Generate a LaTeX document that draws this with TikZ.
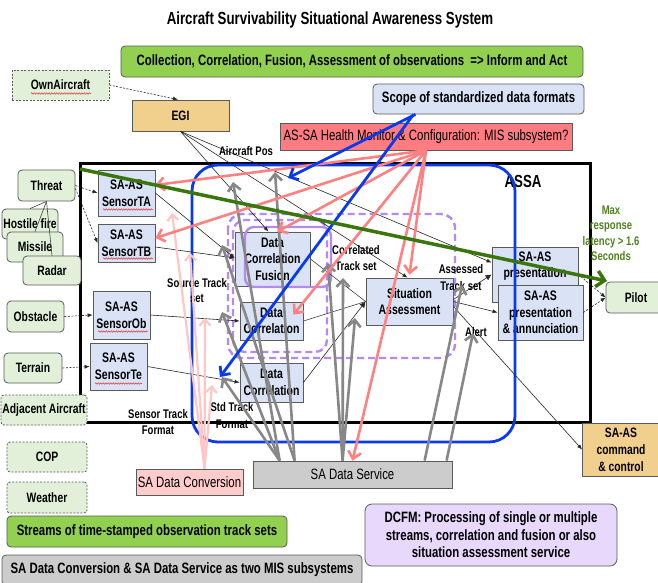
\documentclass[tikz,border=0pt]{standalone}
\usepackage{fontspec}
\setmainfont{Liberation Sans}[FakeStretch=0.76]
\usetikzlibrary{arrows.meta,calc,decorations.pathmorphing}

\definecolor{edge}{RGB}{90,90,90}
\definecolor{grn}{RGB}{146,208,80}
\definecolor{ltgrn}{RGB}{226,240,217}
\definecolor{ltblue}{RGB}{218,227,245}
\definecolor{tan}{RGB}{240,208,140}
\definecolor{salmon}{RGB}{255,124,128}
\definecolor{ltpink}{RGB}{255,204,204}
\definecolor{ltgray}{RGB}{204,204,204}
\definecolor{lav}{RGB}{232,216,252}
\definecolor{purp}{RGB}{180,138,240}
\definecolor{bluel}{RGB}{10,58,240}
\definecolor{arrgray}{RGB}{135,135,135}
\definecolor{pinkarr}{RGB}{255,128,128}
\definecolor{ltpinkarr}{RGB}{255,198,198}
\definecolor{dkgrn}{RGB}{58,118,14}
\definecolor{latgrn}{RGB}{78,130,30}
\definecolor{spell}{RGB}{225,50,50}

\newcommand\ftitle{\fontsize{17.5}{19}\selectfont\bfseries}
\newcommand\fbold{\fontsize{15}{17.5}\selectfont\bfseries}
\newcommand\fmain{\fontsize{15}{16.5}\selectfont}
\newcommand\fproc{\fontsize{13.8}{16.5}\selectfont\bfseries}
\newcommand\fsens{\fontsize{13.8}{17}\selectfont\bfseries}
\newcommand\fside{\fontsize{13.6}{17}\selectfont\bfseries}
\newcommand\flab{\fontsize{12.5}{15.5}\selectfont\bfseries}

\begin{document}
\begin{tikzpicture}[x=1pt,y=-1pt,
  box/.style={draw=edge,line width=0.8pt,align=center,inner sep=0pt},
  rbox/.style={box,rounded corners=4pt},
  dbox/.style={box,rounded corners=3pt,dash pattern=on 2pt off 1.5pt},
  lab/.style={font=\flab,align=center,inner sep=0pt},
  thin/.style={draw=black!85,line width=0.6pt,-{Latex[length=5pt,width=4pt]}},
  thindash/.style={thin,dash pattern=on 2pt off 1.5pt},
  plain/.style={draw=black!75,line width=0.6pt},
  grayarr/.style={draw=arrgray,line width=2.6pt,-{Straight Barb[length=7pt,width=13pt]}},
  pinkline/.style={draw=pinkarr,line width=2.6pt,-{Straight Barb[length=7pt,width=13pt]}},
  ltpinkline/.style={draw=ltpinkarr,line width=2.2pt,-{Straight Barb[length=6pt,width=11pt]}},
  blueline/.style={draw=bluel,line width=2.8pt,-{Straight Barb[length=7pt,width=13pt]}},
  greenline/.style={draw=dkgrn,line width=3.5pt,-{Straight Barb[length=8pt,width=16pt]}},
  wavy/.style={draw=spell,line width=0.5pt,decorate,decoration={snake,amplitude=0.7pt,segment length=2.5pt}}
]
\useasboundingbox (0,0) rectangle (658,582);
\fill[white] (0,0) rectangle (658,582);

% system frame
\draw[line width=3pt] (80,163) rectangle (590,422);
\node[font=\ftitle] (assa) at (523,181) {ASSA};

% title and banners
\node[font=\ftitle] (title) at (330,20) {Aircraft Survivability Situational Awareness System};
\node[rbox,fill=grn,minimum width=462pt,minimum height=31pt,font=\fbold] (collect) at (352,61.5)
  {Collection, Correlation, Fusion, Assessment of observations\ \ => Inform and Act};
\node[rbox,fill=ltblue,minimum width=211pt,minimum height=30pt,font=\fbold] (scope) at (478.5,99)
  {Scope of standardized data formats};
\node[box,fill=salmon,minimum width=292pt,minimum height=27pt,font=\fmain] (health) at (426,136.5)
  {AS-SA Health Monitor \& Configuration: MIS subsystem?};

% own aircraft and navigation
\node[dbox,fill=ltgrn,minimum width=97pt,minimum height=30pt,font=\fside,rounded corners=0pt] (own) at (60.5,85) {OwnAircraft};
\node[box,fill=tan,minimum width=97pt,minimum height=31pt,font=\fside] (egi) at (180.5,115.5) {EGI};

% external sources
\node[rbox,fill=ltgrn,minimum width=57pt,minimum height=31pt,font=\fside] (threat) at (46.5,185.5) {Threat};
\node[rbox,fill=ltgrn,minimum width=56pt,minimum height=30pt,font=\fside] (hostile) at (30,224) {Hostile fire};
\node[rbox,fill=ltgrn,minimum width=56pt,minimum height=30pt,font=\fside] (missile) at (35,247) {Missile};
\node[rbox,fill=ltgrn,minimum width=58pt,minimum height=29pt,font=\fside] (radar) at (52,270.5) {Radar};
\node[rbox,fill=ltgrn,minimum width=57pt,minimum height=31pt,font=\fside] (obstacle) at (35.5,316.5) {Obstacle};
\node[rbox,fill=ltgrn,minimum width=58pt,minimum height=30pt,font=\fside] (terrain) at (33,368) {Terrain};
\node[dbox,fill=ltgrn,minimum width=86pt,minimum height=30pt,font=\fside] (adjacent) at (44,410) {Adjacent Aircraft};
\node[dbox,fill=ltgrn,minimum width=80pt,minimum height=30pt,font=\fside] (cop) at (47,457) {COP};
\node[dbox,fill=ltgrn,minimum width=80pt,minimum height=31pt,font=\fside] (weather) at (47,497.5) {Weather};

% sensors
\node[box,fill=ltblue,minimum width=57pt,minimum height=46pt,font=\fsens] (sensorTA) at (126.5,193) {SA-AS\\SensorTA};
\node[box,fill=ltblue,minimum width=57pt,minimum height=38pt,font=\fsens] (sensorTB) at (126.5,243) {SA-AS\\SensorTB};
\node[box,fill=ltblue,minimum width=57pt,minimum height=48pt,font=\fsens] (sensorOb) at (121.5,315) {SA-AS\\SensorOb};
\node[box,fill=ltblue,minimum width=57pt,minimum height=47pt,font=\fsens] (sensorTe) at (118.5,366.5) {SA-AS\\SensorTe};

% processing
\node[box,fill=ltblue,minimum width=75pt,minimum height=54pt,font=\fproc] (dcf) at (272.5,259) {Data\\Correlation\\Fusion};
\node[box,fill=ltblue,minimum width=63pt,minimum height=38pt,font=\fproc] (dc1) at (271.5,321) {Data\\Correlation};
\node[box,fill=ltblue,minimum width=63pt,minimum height=39pt,font=\fproc] (dc2) at (271.5,382.5) {Data\\Correlation};
\node[box,fill=ltblue,minimum width=87pt,minimum height=47pt,font=\fproc] (sa) at (409.5,301.5) {Situation\\Assessment};

% presentation
\node[box,fill=ltblue,minimum width=86pt,minimum height=55pt] (pres) at (535,274.5) {};
\node[font=\fproc,align=center,inner sep=0pt] (prestext) at (535,266) {SA-AS\\presentation};
\node[box,fill=ltblue,minimum width=85pt,minimum height=55pt,font=\fproc] (presann) at (540.5,312.5) {SA-AS\\presentation\\\& annunciation};
\node[rbox,fill=ltgrn,minimum width=60pt,minimum height=31pt,font=\fside] (pilot) at (636,297.5) {Pilot};
\node[box,fill=tan,minimum width=77pt,minimum height=53pt,font=\fside] (cmd) at (621,449.5) {SA-AS\\command\\\& control};

% services and notes
\node[box,fill=ltpink,minimum width=107pt,minimum height=26pt,font=\fmain] (conv) at (189.5,482) {SA Data Conversion};
\node[box,fill=ltgray,minimum width=199pt,minimum height=27pt,font=\fmain] (service) at (352.5,474.5) {SA Data Service};
\node[rbox,fill=grn,minimum width=280pt,minimum height=31pt,font=\fbold] (streams) at (147,531.5) {Streams of time-stamped observation track sets};
\node[rbox,fill=ltgray,minimum width=360pt,minimum height=30pt,font=\fbold] (mis) at (182,570) {SA Data Conversion \& SA Data Service as two MIS subsystems};
\node[rbox,fill=lav,minimum width=252pt,minimum height=62pt,rounded corners=7pt,font=\fbold] (dcfm) at (491,535)
  {DCFM: Processing of single or multiple\\streams, correlation and fusion or also\\situation assessment service};

% spelling marks under the sensor and aircraft names
\draw[wavy] (31,93.5) -- (91,93.5);
\draw[wavy] (103,209.5) -- (153,209.5);
\draw[wavy] (103,258.5) -- (153,258.5);
\draw[wavy] (98,331.5) -- (148,331.5);
\draw[wavy] (95,383.5) -- (142,383.5);

% grouping outlines
\draw[purp,line width=2.4pt,dash pattern=on 7pt off 4pt,rounded corners=14pt] (228,214) rectangle (455,358);
\draw[purp,line width=2.4pt,dash pattern=on 7pt off 4pt,rounded corners=12pt] (233,220) rectangle (327,352);
\draw[purp,line width=2.4pt,rounded corners=9pt] (245,227) rectangle (331,287);
\draw[bluel,line width=2.8pt,rounded corners=26pt] (192,165) rectangle (515,442);

% thin data-flow connectors
\draw[thindash] (own.east) -- ([xshift=-2.5pt]egi.north);
\draw[thin] (egi.south) -- ([xshift=-4pt]dcf.north);
\draw[thin] (egi.south) -- ([xshift=-2pt]sa.north);
\draw[thin] (egi.south) -- ([yshift=12pt]pres.west);
\draw[thindash] (threat.east) -- (sensorTA.west);
\draw[thindash] ([yshift=-3pt]threat.east) -- (sensorTB.west);
\draw[plain] (threat.south) -- (hostile.north);
\draw[plain] (threat.south) -- (missile.north);
\draw[plain] (threat.south) -- (radar.north);
\draw[thindash] (obstacle.east) -- (sensorOb.west);
\draw[thindash] (terrain.east) -- (sensorTe.west);
\draw[thin] (sensorTA.east) -- ([yshift=1pt]dcf.west);
\draw[thin] ([yshift=-4pt]sensorTB.east) -- ([yshift=1pt]dcf.west);
\draw[thin] (sensorOb.east) -- (dc1.west);
\draw[thin] (sensorTe.east) -- (dc2.west);
\draw[plain] (dcf.east) -- (sa.west);
\draw[plain] (dc1.east) -- (sa.west);
\draw[thin,-{Latex[length=6pt,width=6pt]}] (dc2.east) -- (sa.west);
\draw[thin,-{Latex[length=6pt,width=6pt]}] ([yshift=2pt]sa.east) -- (pres.west);
\draw[thin] (sa.east) -- (presann.west);
\draw[thin] ([yshift=-5pt]sa.east) -- (cmd.west);
\draw[thindash] (pres.east) -- (pilot.west);
\draw[thindash] (presann.east) -- (pilot.west);

% flow labels
\node[lab] (aircraftpos) at (246,151) {Aircraft Pos};
\node[lab] (srctrack) at (197,290.5) {Source Track\\set};
\node[lab] (correlated) at (356,258) {Correlated\\Track set};
\node[lab,font=\fontsize{12.5}{17}\selectfont\bfseries] (assessed) at (461,277.5) {Assessed\\Track set};
\node[lab] (alert) at (476,332) {Alert};
\node[lab] (sensortrack) at (158,422) {Sensor Track\\Format};
\node[lab,font=\fontsize{12.5}{17}\selectfont\bfseries] (stdtrack) at (232,415.5) {Std Track\\Format};
\node[lab,text=latgrn] (maxlat) at (611,233.5) {Max\\response\\latency > 1.6\\Seconds};

% data service feeds
\coordinate (gT1) at (233,182);
\coordinate (gT2) at (275,172);
\coordinate (gT3) at (222,245);
\coordinate (gT4) at (222,312);
\coordinate (gT5) at (222,377);
\coordinate (gT6) at (328,263);
\coordinate (gT7) at (343,278);
\coordinate (gT8) at (355,318);
\coordinate (gT9) at (462,285);
\coordinate (gT10) at (473,333);
\draw[grayarr] ([xshift=27pt]service.north west) -- (gT1);
\draw[grayarr] ([xshift=42pt]service.north west) -- (gT2);
\draw[grayarr] ([xshift=42pt]service.north west) -- (gT3);
\draw[grayarr] ([xshift=27pt]service.north west) -- (gT4);
\draw[grayarr] ([xshift=27pt]service.north west) -- (gT5);
\draw[grayarr] ([xshift=90pt]service.north west) -- (gT6);
\draw[grayarr] ([xshift=90pt]service.north west) -- (gT7);
\draw[grayarr] ([xshift=90pt]service.north west) -- (gT8);
\draw[grayarr] ([xshift=172pt]service.north west) -- (gT9);
\draw[grayarr] ([xshift=194pt]service.north west) -- (gT10);

% data conversion feeds
\coordinate (cT1) at (172,213);
\coordinate (cT2) at (190,253);
\coordinate (cT3) at (205,318);
\coordinate (cT4) at (212,385);
\draw[ltpinkline] ([xshift=15pt]conv.north) -- (cT1);
\draw[ltpinkline] ([xshift=15pt]conv.north) -- (cT2);
\draw[ltpinkline] ([xshift=15pt]conv.north) -- (cT3);
\draw[ltpinkline] ([xshift=15pt]conv.north) -- (cT4);

% health monitor and configuration
\draw[pinkline] (health.south) -- ([yshift=8pt]sensorTA.east);
\draw[pinkline] (health.south) -- ([yshift=5pt]sensorTB.east);
\draw[pinkline] (health.south) -- ([xshift=5pt]dcf.north);
\draw[pinkline] (health.south) -- ($(dc1.north east)+(-10,13)$);
\draw[pinkline] (health.south) -- ([yshift=3pt]sa.north);
\draw[pinkline] (health.south) -- (service.north);

% data format scope
\coordinate (bT1) at (288,178);
\coordinate (bT2) at (220,377);
\draw[blueline] ([xshift=-63pt]scope.south) -- (bT1);
\draw[blueline] ([xshift=-65pt]scope.south) -- (bT2);

% response latency
\coordinate (gStart) at (80,169);
\coordinate (gEnd) at (607,281);
\draw[greenline] (gStart) -- (gEnd);
\end{tikzpicture}
\end{document}
